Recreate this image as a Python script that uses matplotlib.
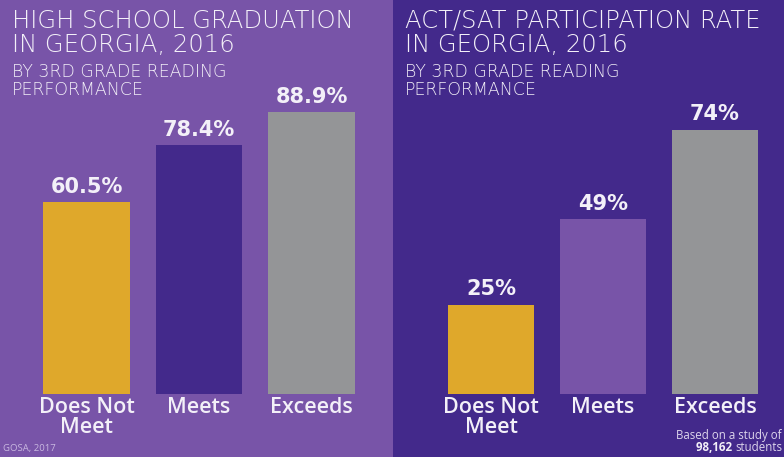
import matplotlib.pyplot as plt

categories = ["Does Not\nMeet", "Meets", "Exceeds"]
grad_rate = [60.5, 78.4, 88.9]
grad_labels = ["60.5%", "78.4%", "88.9%"]
test_rate = [25, 49, 74]
test_labels = ["25%", "49%", "74%"]

light_purple = "#7854a8"
dark_purple = "#43298b"
gold = "#dfa82b"
gray = "#949597"
white = "#f3f0f8"

W, H = 784, 457
fig = plt.figure(figsize=(W / 100, H / 100), dpi=100)
split = 393 / W
ax1 = fig.add_axes([0, 0, split, 1])
ax2 = fig.add_axes([split, 0, 1 - split, 1])


def panel(ax, vals, labels, colors, bg, xlim, ylim, title):
    ax.set_facecolor(bg)
    x = range(len(vals))
    ax.bar(x, vals, width=0.77, color=colors)
    for i, (v, lab) in enumerate(zip(vals, labels)):
        ax.annotate(lab, (i, v), xytext=(0, 4), textcoords="offset points",
                    ha="center", va="bottom", color=white, fontsize=15,
                    fontweight="bold", family="DejaVu Sans")
        ax.annotate(categories[i], (i, 0), xytext=(0, -2), textcoords="offset points",
                    ha="center", va="top", color=white, fontsize=15.5,
                    fontweight="semibold", family="Open Sans", linespacing=0.92)
    ax.set_xlim(*xlim)
    ax.set_ylim(*ylim)
    ax.set_xticks([])
    ax.set_yticks([])
    for s in ax.spines.values():
        s.set_visible(False)
    # titles placed in axes fraction
    ax.text(12 / 393, 1 - 9 / H, title, transform=ax.transAxes, ha="left", va="top",
            color=white, fontsize=17.5, family="DejaVu Sans", fontweight="light",
            linespacing=0.98)
    ax.text(12 / 393, 1 - 63 / H, "BY 3RD GRADE READING\nPERFORMANCE",
            transform=ax.transAxes, ha="left", va="top", color=white,
            fontsize=12.5, family="DejaVu Sans", fontweight="light", linespacing=1.0)


panel(ax1, grad_rate, grad_labels, [gold, dark_purple, gray], light_purple,
      (-0.769, 2.724), (-19.87, 124.3), "HIGH SCHOOL GRADUATION\nIN GEORGIA, 2016")
panel(ax2, test_rate, test_labels, [gold, light_purple, gray], dark_purple,
      (-0.875, 2.616), (-17.65, 110.4), "ACT/SAT PARTICIPATION RATE\nIN GEORGIA, 2016")

ax1.text(3 / 393, 4 / H, "GOSA, 2017", transform=ax1.transAxes, ha="left",
         va="bottom", color="#c9b8e0", fontsize=6.8, family="Open Sans")

note_color = "#ddd5ec"
ax2.text(1 - 2 / 391, 15 / H, "Based on a study of", transform=ax2.transAxes,
         ha="right", va="bottom", color=note_color, fontsize=8.3, family="Open Sans")
st = ax2.text(1 - 2 / 391, 3 / H, "students", transform=ax2.transAxes,
              ha="right", va="bottom", color=note_color, fontsize=8.3, family="Open Sans")
ax2.annotate("98,162 ", xy=(0, 0), xycoords=st, ha="right", va="bottom",
             color=white, fontsize=8.3, family="Open Sans", fontweight="bold")

fig.savefig("out.png", dpi=100)
